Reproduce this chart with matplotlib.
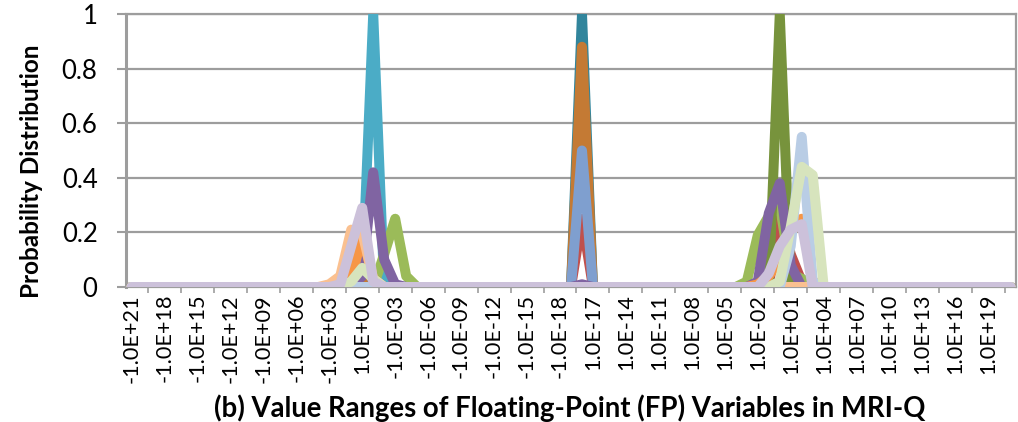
import matplotlib.pyplot as plt

# categorias do eixo x: -1E+21 ... -1E-18, 0, 1E-18 ... 1E+21
categorias = ([f"-1.0E{e:+03d}" for e in range(21, -19, -1)] + ["0"] +
              [f"1.0E{e:+03d}" for e in range(-18, 22)])

# rotulos mostrados (um a cada 3 categorias)
rotulos_x = ["-1.0E+21", "-1.0E+18", "-1.0E+15", "-1.0E+12", "-1.0E+09",
             "-1.0E+06", "-1.0E+03", "1.0E+00", "-1.0E-03", "-1.0E-06",
             "-1.0E-09", "-1.0E-12", "-1.0E-15", "-1.0E-18", "1.0E-17",
             "1.0E-14", "1.0E-11", "1.0E-08", "1.0E-05", "1.0E-02",
             "1.0E+01", "1.0E+04", "1.0E+07", "1.0E+10", "1.0E+13",
             "1.0E+16", "1.0E+19"]

# valores diferentes de zero de cada variavel
aqua = {"-1.0E+00": 0.03, "-1.0E-01": 1.0, "1.0E+02": 0.03}
teal_escuro = {"-1.0E+00": 0.02, "1.0E-18": 1.0}
laranja_escuro = {"-1.0E+00": 0.03, "1.0E-18": 0.88}
vermelho = {"-1.0E+01": 0.01, "-1.0E+00": 0.15, "-1.0E-01": 0.02,
            "1.0E-18": 0.25, "1.0E+00": 0.28, "1.0E+01": 0.12, "1.0E+02": 0.02}
azul = {"-1.0E+01": 0.01, "-1.0E+00": 0.12, "-1.0E-01": 0.02, "1.0E-18": 0.5}
verde = {"-1.0E-02": 0.12, "-1.0E-03": 0.25, "-1.0E-04": 0.04,
         "1.0E-03": 0.02, "1.0E-02": 0.19, "1.0E-01": 0.26, "1.0E+00": 0.3,
         "1.0E+01": 0.05, "1.0E+02": 0.03}
verde_escuro = {"1.0E+00": 1.0}
roxo = {"-1.0E+00": 0.04, "-1.0E-01": 0.42, "-1.0E-02": 0.1, "-1.0E-03": 0.01,
        "1.0E-18": 0.01, "1.0E-02": 0.02, "1.0E-01": 0.27, "1.0E+00": 0.38,
        "1.0E+01": 0.08}
laranja = {"-1.0E+01": 0.03, "-1.0E+00": 0.19, "-1.0E-01": 0.03,
           "1.0E-02": 0.01, "1.0E-01": 0.04, "1.0E+00": 0.1, "1.0E+01": 0.2,
           "1.0E+02": 0.25, "1.0E+03": 0.02}
pessego = {"-1.0E+03": 0.01, "-1.0E+02": 0.04, "-1.0E+01": 0.21,
           "-1.0E+00": 0.2, "-1.0E-01": 0.03}
azul_claro = {"1.0E+01": 0.15, "1.0E+02": 0.55, "1.0E+03": 0.02}
verde_claro = {"-1.0E+01": 0.02, "-1.0E+00": 0.07, "-1.0E-01": 0.03,
               "1.0E+00": 0.02, "1.0E+01": 0.22, "1.0E+02": 0.44, "1.0E+03": 0.41}
lilas = {"-1.0E+02": 0.01, "-1.0E+01": 0.15, "-1.0E+00": 0.29, "-1.0E-01": 0.02,
         "1.0E-01": 0.05, "1.0E+00": 0.15, "1.0E+01": 0.21, "1.0E+02": 0.23}

series = [aqua, teal_escuro, laranja_escuro, vermelho, azul, verde,
          verde_escuro, roxo, laranja, pessego, azul_claro, verde_claro, lilas]
cores = ["#4BACC6", "#31859C", "#C47A34", "#C0504D", "#7F9FCF", "#9BBB59",
         "#77933C", "#8064A2", "#F79646", "#FAC090", "#B9CDE5", "#D7E4BD",
         "#CCC1DA"]

plt.rcParams['font.family'] = ['Lato', 'DejaVu Sans']

fig = plt.figure(figsize=(10.18, 4.22), dpi=100)
ax = fig.add_axes([126 / 1018, 135 / 422, 890 / 1018, 273 / 422])

x = list(range(len(categorias)))
for serie, cor in zip(series, cores):
    valores = [serie.get(c, 0) for c in categorias]
    ax.plot(x, valores, color=cor, lw=7.2, solid_joinstyle='round',
            solid_capstyle='round', zorder=3)

cinza = "#9D9D9D"
ax.set_xlim(-0.5, len(categorias) - 0.5)
ax.set_ylim(0, 1)
ax.set_yticks([0, 0.2, 0.4, 0.6, 0.8, 1])
ax.set_yticklabels(["0", "0.2", "0.4", "0.6", "0.8", "1"], fontsize=18.5)
ax.yaxis.grid(True, color=cinza, lw=1.6)
ax.tick_params(axis='y', length=6.5, width=1.5, color=cinza, pad=14)

ax.set_xticks(range(0, len(categorias), 3))
ax.set_xticklabels(rotulos_x, rotation=90, fontsize=15.6)
ax.set_xticks([i + 1.5 for i in range(0, len(categorias) - 2, 3)], minor=True)
ax.tick_params(axis='x', which='major', length=0, pad=5)
ax.tick_params(axis='x', which='minor', length=4.5, width=1.2, color=cinza)

for lado in ['left', 'right', 'bottom', 'top']:
    ax.spines[lado].set_color(cinza)
    ax.spines[lado].set_linewidth(1.6)
ax.spines['left'].set_linewidth(2.2)
ax.set_axisbelow(True)

fig.text(0.031, 0.595, "Probability Distribution", rotation=90, fontsize=17.5,
         fontweight='bold', ha='center', va='center')
fig.text(0.56, 0.033, "(b) Value Ranges of Floating-Point (FP) Variables in MRI-Q",
         fontsize=19.8, fontweight='bold', ha='center', va='center')

fig.savefig("out.png", dpi=100)
